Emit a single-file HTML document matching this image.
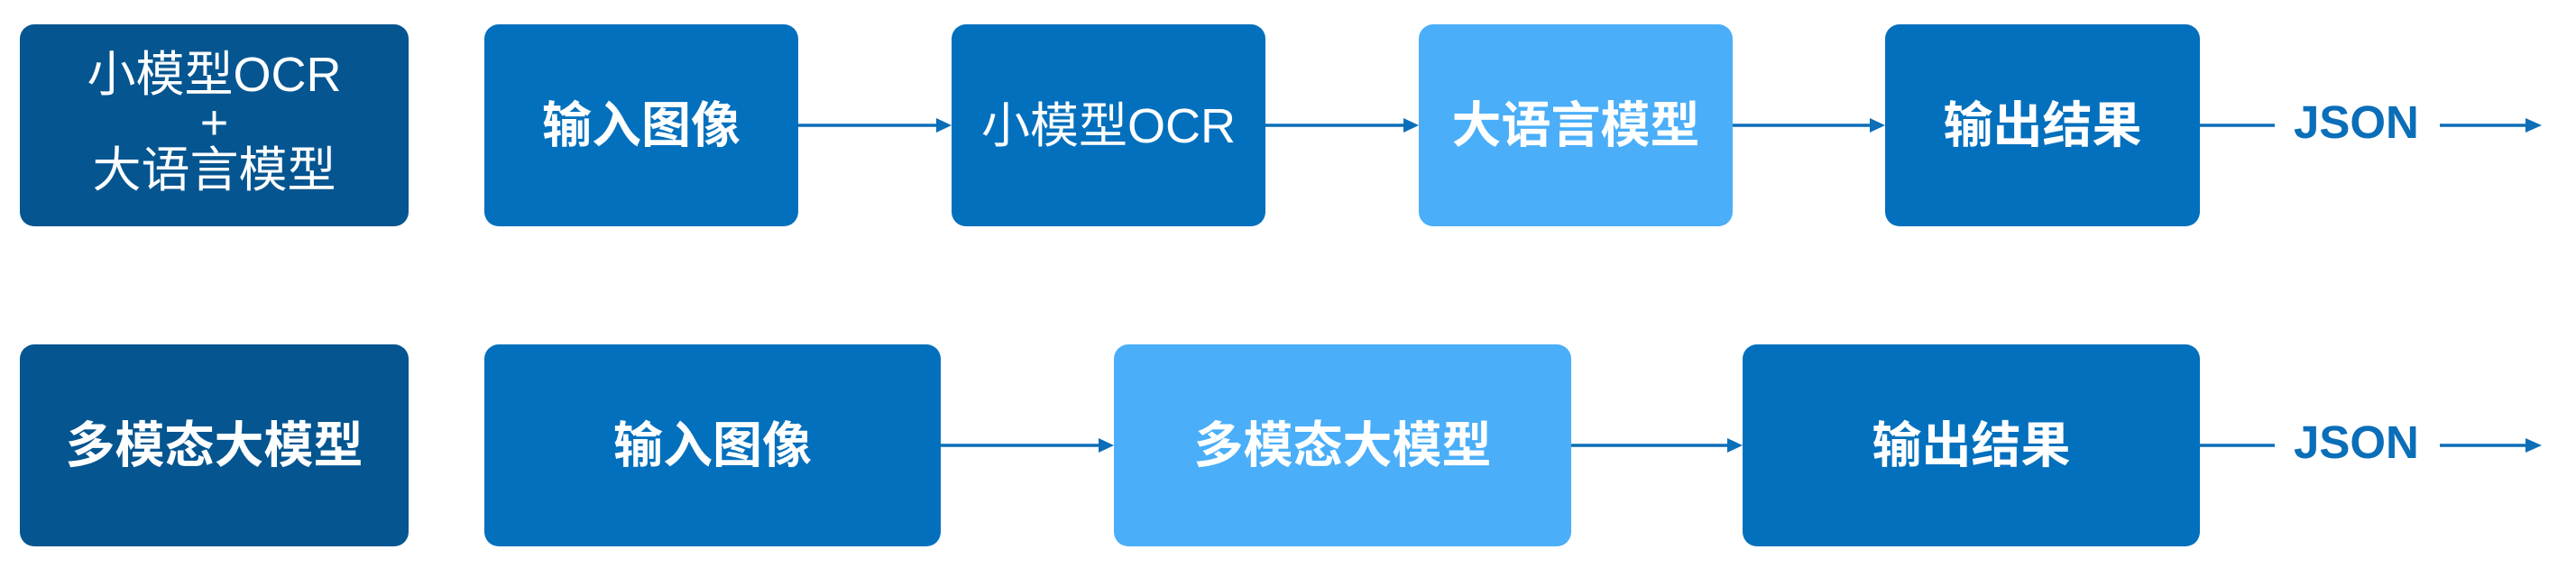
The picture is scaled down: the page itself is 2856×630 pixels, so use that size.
<!DOCTYPE html>
<html><head><meta charset="utf-8"><style>
body{margin:0;width:2856px;height:630px;background:#fff;position:relative;overflow:hidden;font-family:"Liberation Sans","Noto Sans CJK SC",sans-serif;}
.b{position:absolute;border-radius:16px;color:#fff;display:flex;align-items:center;justify-content:center;text-align:center;font-weight:bold;font-size:55px;box-sizing:border-box;padding-bottom:10px;}
.d{background:#045590}.m{background:#0370BD}.l{background:#4AAEF8}
.t{position:absolute;color:#0B6EB8;font-weight:bold;font-size:51px;}
svg{position:absolute;left:0;top:0}
</style></head><body>
<div class="b d" style="left:22px;top:27px;width:431px;height:224px;font-weight:normal;font-size:54px;line-height:53px;padding-bottom:6px">小模型OCR<br>+<br>大语言模型</div>
<div class="b m" style="left:537px;top:27px;width:348px;height:224px">输入图像</div>
<div class="b m" style="left:1055px;top:27px;width:348px;height:224px;font-weight:normal;font-size:54px">小模型OCR</div>
<div class="b l" style="left:1573px;top:27px;width:348px;height:224px">大语言模型</div>
<div class="b m" style="left:2090px;top:27px;width:349px;height:224px">输出结果</div>
<div class="t" style="left:2543px;top:106px">JSON</div>

<div class="b d" style="left:22px;top:382px;width:431px;height:224px">多模态大模型</div>
<div class="b m" style="left:537px;top:382px;width:506px;height:224px">输入图像</div>
<div class="b l" style="left:1235px;top:382px;width:507px;height:224px">多模态大模型</div>
<div class="b m" style="left:1932px;top:382px;width:507px;height:224px">输出结果</div>
<div class="t" style="left:2543px;top:461px">JSON</div>

<svg width="2856" height="630">
<g stroke="#0B6EB8" stroke-width="3.5" fill="none">
<line x1="885" y1="139" x2="1040" y2="139"/>
<line x1="1403" y1="139" x2="1558" y2="139"/>
<line x1="1921" y1="139" x2="2075" y2="139"/>
<line x1="2439" y1="139" x2="2522" y2="139"/>
<line x1="2705" y1="139" x2="2802" y2="139"/>
<line x1="1043" y1="494" x2="1220" y2="494"/>
<line x1="1742" y1="494" x2="1917" y2="494"/>
<line x1="2439" y1="494" x2="2522" y2="494"/>
<line x1="2705" y1="494" x2="2802" y2="494"/>
</g>
<g fill="#0B6EB8">
<polygon points="1055,139 1038,131 1038,147"/>
<polygon points="1573,139 1556,131 1556,147"/>
<polygon points="2090,139 2073,131 2073,147"/>
<polygon points="2818,139 2800,131 2800,147"/>
<polygon points="1235,494 1218,486 1218,502"/>
<polygon points="1932,494 1915,486 1915,502"/>
<polygon points="2818,494 2800,486 2800,502"/>
</g>
</svg>
</body></html>
